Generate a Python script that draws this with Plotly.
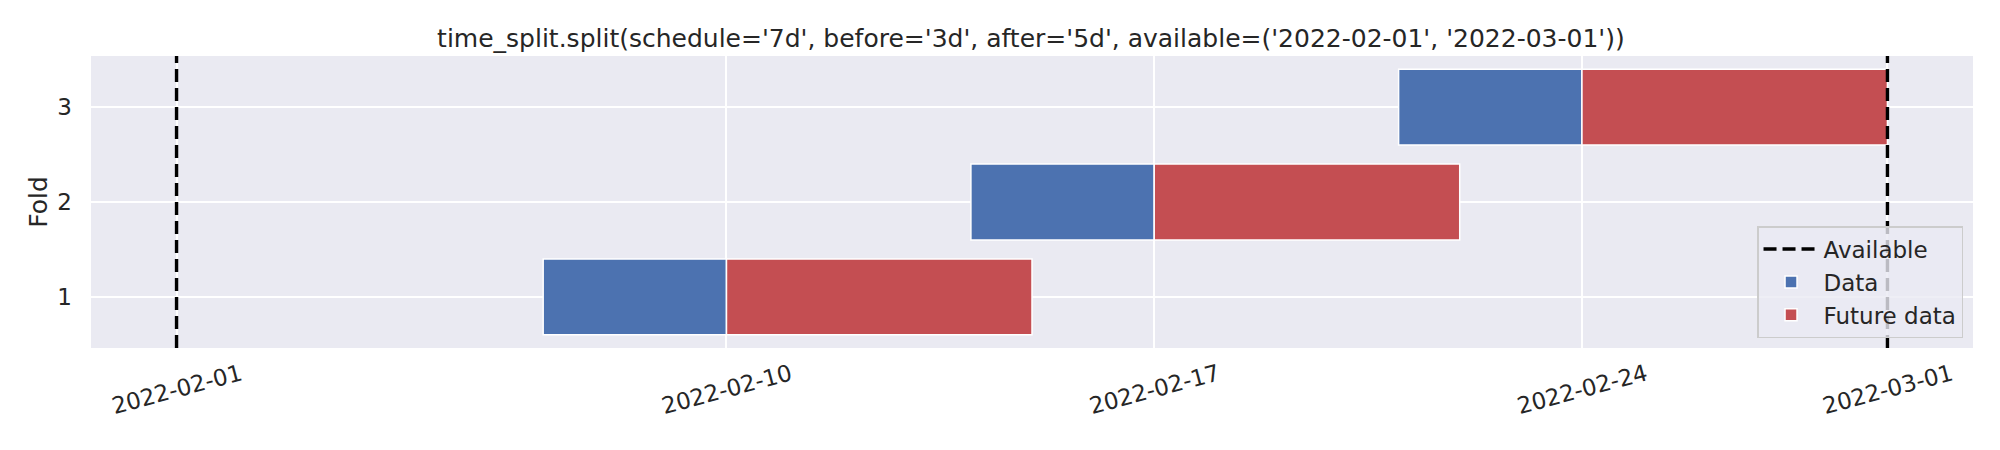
import pandas as pd
import plotly.graph_objects as go

# fold schedule
folds = [1, 2, 3]
data_start = ["2022-02-07", "2022-02-14", "2022-02-21"]
split_date = ["2022-02-10", "2022-02-17", "2022-02-24"]
future_end = ["2022-02-15", "2022-02-22", "2022-03-01"]
available = ["2022-02-01", "2022-03-01"]
tick_dates = ["2022-02-01", "2022-02-10", "2022-02-17", "2022-02-24", "2022-03-01"]

BLUE = "#4C72B0"
RED = "#C44E52"
INK = "#262626"
FONT = "DejaVu Sans"

# the page body has an 8px margin, so the figure is a bit smaller than the window
W, H = 1992, 442


def ms(a, b):
    return [(pd.Timestamp(y) - pd.Timestamp(x)).total_seconds() * 1000 for x, y in zip(a, b)]


fig = go.Figure()

fig.add_trace(go.Bar(
    y=folds, x=ms(data_start, split_date), base=data_start, orientation="h",
    width=0.8, name="Data", marker=dict(color=BLUE, line=dict(color="white", width=1.5)),
))
fig.add_trace(go.Bar(
    y=folds, x=ms(split_date, future_end), base=split_date, orientation="h",
    width=0.8, name="Future data", marker=dict(color=RED, line=dict(color="white", width=1.5)),
))

for i, d in enumerate(available):
    fig.add_vline(x=d, line=dict(color="black", width=3.4, dash="13px,6px"),
                  showlegend=(i == 0), name="Available", legendrank=1)

# matplotlib style 5% margins
lo = pd.Timestamp(available[0])
hi = pd.Timestamp(available[1])
pad = (hi - lo) * 0.05

fig.update_layout(
    width=W, height=H,
    margin=dict(l=83, r=27, t=48, b=102),
    plot_bgcolor="#EAEAF2", paper_bgcolor="white",
    barmode="overlay",
    font=dict(family=FONT, color=INK, size=23),
    title=dict(
        text="time_split.split(schedule='7d', before='3d', after='5d', available=('2022-02-01', '2022-03-01'))",
        x=0.5135, xanchor="center", y=1 - 30 / H, yanchor="middle",
        font=dict(size=25, color=INK),
    ),
    legend=dict(
        x=0.9947, y=0.034, xanchor="right", yanchor="bottom",
        bgcolor="rgba(234,234,242,0.8)", bordercolor="#CCCCCC", borderwidth=1.5,
        font=dict(size=23, color=INK), traceorder="normal", itemwidth=55,
    ),
)

fig.update_xaxes(
    type="date", range=[lo - pad, hi + pad],
    tickvals=tick_dates, ticktext=tick_dates, tickangle=-15,
    ticklabelshift=64, ticklabelstandoff=8,
    showgrid=True, gridcolor="white", gridwidth=1.7, zeroline=False,
    showline=False, ticks="", automargin=False,
)
fig.update_yaxes(
    range=[0.46, 3.54], tickvals=folds,
    showgrid=True, gridcolor="white", gridwidth=1.7, zeroline=False,
    title=dict(text="Fold", font=dict(size=25, color=INK), standoff=2),
    ticks="", automargin=False, ticklabelstandoff=18,
)

fig.write_html("out.html")
